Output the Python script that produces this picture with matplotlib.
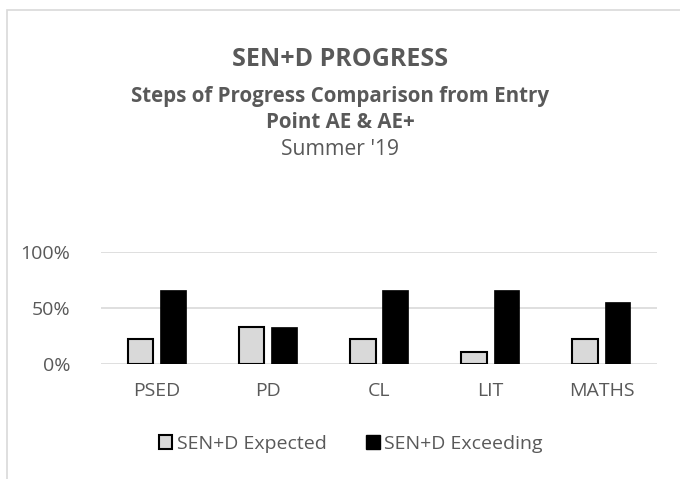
import matplotlib
matplotlib.use("Agg")
import matplotlib.pyplot as plt
from matplotlib.patches import Patch, Rectangle
import numpy as np

categories = ["PSED", "PD", "CL", "LIT", "MATHS"]
expected = [0.222, 0.333, 0.222, 0.111, 0.222]
exceeding = [0.667, 0.333, 0.667, 0.667, 0.556]
series_names = ["SEN+D Expected", "SEN+D Exceeding"]
yticks = [0, 0.5, 1.0]
ytick_labels = ["0%", "50%", "100%"]

W, H = 680, 479
grey_txt = "#595959"
grid_col = "#d9d9d9"

fig = plt.figure(figsize=(W / 100, H / 100), dpi=100)

def fx(px):
    return px / W

def fy(py):
    return 1 - py / H

# chart frame (cropped on the right and bottom)
fig.add_artist(Rectangle((fx(7), -0.1), 1.2, fy(10) + 0.1, transform=fig.transFigure,
                         fill=False, edgecolor=grid_col, lw=1.2))

ax = fig.add_axes([fx(101), fy(364.3), fx(657) - fx(101), fy(252.3) - fy(364.3)])

x = np.arange(len(categories))
w = 0.23
off = 0.145
ax.bar(x - off, expected, w, color="#d9d9d9", edgecolor="black", linewidth=1.5, zorder=3)
ax.bar(x + off, exceeding, w, color="black", edgecolor="black", linewidth=0.5, zorder=3)

ax.set_xlim(-0.5, len(categories) - 0.5)
ax.set_ylim(0, 1.0)
ax.set_yticks(yticks)
ax.set_yticklabels(ytick_labels)
ax.set_xticks(x)
ax.set_xticklabels(categories)
ax.yaxis.grid(True, color=grid_col, lw=1.2, zorder=0)
for s in ["top", "right", "left", "bottom"]:
    ax.spines[s].set_visible(False)
ax.tick_params(length=0, labelsize=14, labelcolor=grey_txt)
ax.tick_params(axis="y", pad=22)
ax.tick_params(axis="x", pad=13)
for lab in ax.get_xticklabels() + ax.get_yticklabels():
    lab.set_family("Open Sans")

# titles
fig.text(0.5, fy(60), "SEN+D PROGRESS", ha="center", va="center", fontsize=18,
         fontweight="bold", color=grey_txt, family="Open Sans")
fig.text(0.5, fy(97), "Steps of Progress Comparison from Entry", ha="center", va="center",
         fontsize=14.8, fontweight="bold", color=grey_txt, family="Open Sans")
fig.text(0.5, fy(123), "Point AE & AE+", ha="center", va="center",
         fontsize=14.8, fontweight="bold", color=grey_txt, family="Open Sans")
fig.text(0.5, fy(150), "Summer '19", ha="center", va="center",
         fontsize=15.2, color=grey_txt, family="Open Sans")

handles = [Patch(facecolor="#d9d9d9", edgecolor="black", linewidth=1.5),
           Patch(facecolor="black", edgecolor="black")]
leg = fig.legend(handles, series_names, loc="center", bbox_to_anchor=(0.516, fy(444)),
                 ncol=2, frameon=False, handlelength=0.7, handleheight=0.7,
                 handletextpad=0.25, columnspacing=2.0,
                 prop={"family": "Open Sans", "size": 14})
for t in leg.get_texts():
    t.set_color(grey_txt)

fig.savefig("out.png", dpi=100)
